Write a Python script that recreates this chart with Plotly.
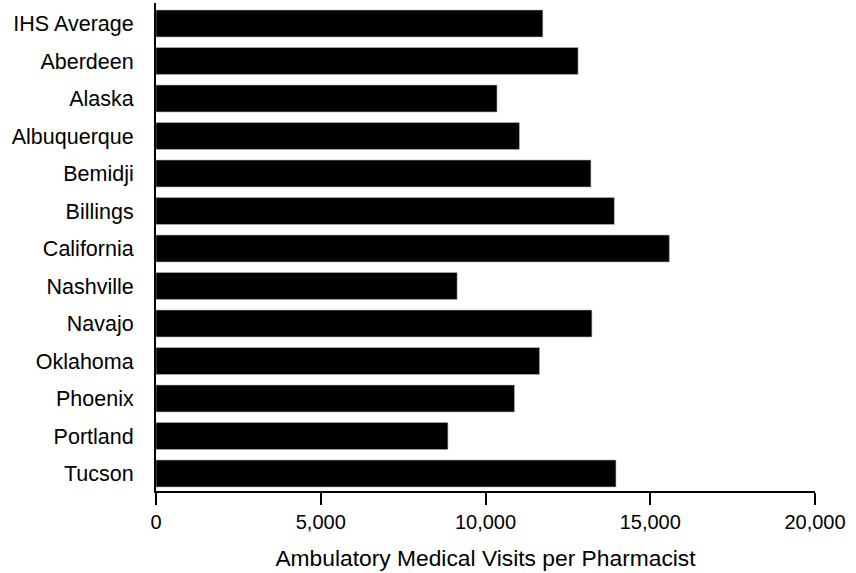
import plotly.graph_objects as go

categories = ["IHS Average", "Aberdeen", "Alaska", "Albuquerque", "Bemidji", "Billings",
              "California", "Nashville", "Navajo", "Oklahoma", "Phoenix", "Portland", "Tucson"]
visits = [11740, 12810, 10350, 11030, 13200, 13910, 15580, 9140, 13230, 11640, 10880, 8860, 13960]
x_ticks = [0, 5000, 10000, 15000, 20000]
x_tick_labels = ["0", "5,000", "10,000", "15,000", "20,000"]
x_title = "Ambulatory Medical Visits per Pharmacist"

fig = go.Figure(go.Bar(
    y=categories, x=visits, orientation="h",
    marker=dict(color="#000000", line=dict(color="#bbbbbb", width=0.6)),
))

font = "Liberation Sans, Arial, sans-serif"
fig.update_layout(
    width=856, height=573,
    margin=dict(l=156, r=41, t=3, b=82),
    paper_bgcolor="white", plot_bgcolor="white",
    bargap=0.28, showlegend=False,
    font=dict(family=font, color="black"),
)
fig.update_xaxes(
    range=[0, 20000], tickvals=x_ticks, ticktext=x_tick_labels,
    showgrid=False, zeroline=False,
    showline=True, linecolor="black", linewidth=2,
    ticks="outside", ticklen=12, tickwidth=2, tickcolor="black",
    tickfont=dict(size=20, family=font, color="black"),
    title=dict(text=x_title, font=dict(size=22.8, family=font, color="black"), standoff=18),
)
fig.update_yaxes(
    categoryorder="array", categoryarray=categories,
    range=[12.467, -0.547],
    showgrid=False, zeroline=False,
    showline=True, linecolor="black", linewidth=2,
    ticks="", ticklabelstandoff=16,
    tickfont=dict(size=21.5, family=font, color="black"),
)
fig.write_html("out.html", config={"displayModeBar": False},
               post_script="document.body.style.margin='0px';")
